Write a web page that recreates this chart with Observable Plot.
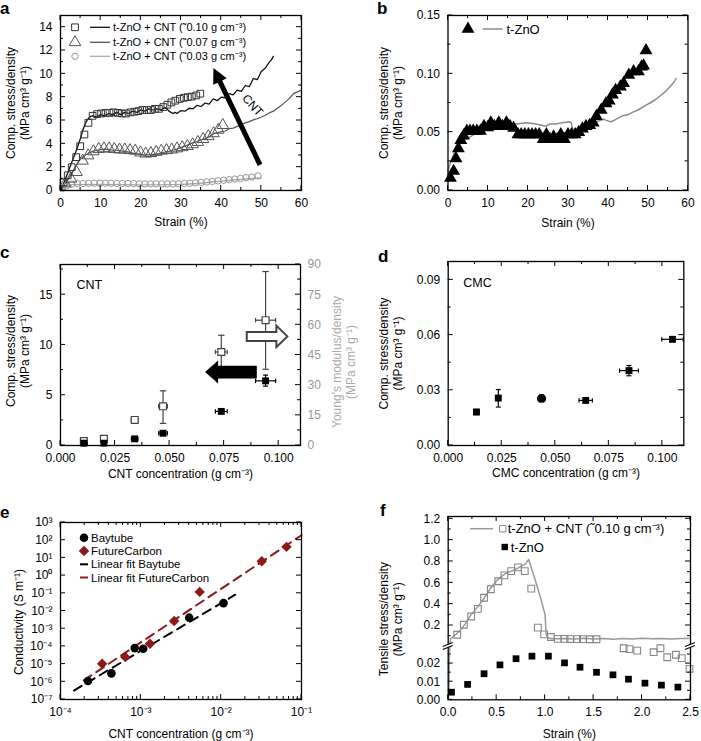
<!DOCTYPE html>
<html><head><meta charset="utf-8">
<script src="https://cdn.jsdelivr.net/npm/d3@7"></script>
<script src="https://cdn.jsdelivr.net/npm/@observablehq/plot@0.6"></script>
<style>
body{margin:0;background:#fff;}
#root{position:relative;width:701px;height:741px;overflow:hidden;background:#fff;font-family:'Liberation Sans',Arial,Helvetica,sans-serif;}
</style></head><body><div id="root"></div>
<script>
// ---------------- Panel a ----------------
const aSqStrain = [0.75,1.8,2.8,3.9,4.9,5.95,6.95,8.0,9.1,10.1,11.2,12.2,13.2,14.3,15.3,16.3,17.4,18.4,19.4,20.4,21.5,22.5,23.5,24.5,25.6,26.6,27.6,28.6,29.7,30.7,31.7,32.7,33.8,34.8];
const aSqStress = [0.7,1.3,2.0,2.86,3.8,4.8,5.8,6.4,6.55,6.6,6.65,6.65,6.7,6.65,6.6,6.6,6.7,6.75,6.8,6.9,6.9,6.9,7.0,7.0,7.15,7.35,7.55,7.7,7.85,7.95,8.0,8.05,8.15,8.3];
const aTriStrain = [1.2,2.6,4.0,5.5,6.9,8.2,9.5,10.8,12.1,13.4,14.7,16.0,17.3,18.6,19.9,21.2,22.5,23.8,25.1,26.4,27.7,29.0,30.3,31.6,32.9,34.2,35.5,36.8,38.1,39.3,40.4];
const aTriStress = [0.6,1.0,1.57,2.55,3.0,3.35,3.55,3.6,3.6,3.55,3.5,3.5,3.45,3.4,3.25,3.15,3.2,3.3,3.4,3.45,3.5,3.6,3.7,3.8,3.95,4.15,4.4,4.65,4.9,5.2,5.6];
const aCirStrain = [0.5,1.5,2.8,4.2,5.6,7.0,8.4,9.8,11.2,12.6,14.0,15.4,16.8,18.2,19.6,21.0,22.4,23.8,25.2,26.6,28.0,29.4,30.8,32.2,33.6,35.0,36.4,37.8,39.2,40.6,42.0,43.4,44.8,46.2,47.6,49.2];
const aCirStress = [0.2,0.4,0.55,0.6,0.6,0.62,0.62,0.62,0.62,0.62,0.6,0.6,0.6,0.6,0.58,0.57,0.57,0.57,0.57,0.57,0.57,0.58,0.6,0.62,0.66,0.7,0.74,0.78,0.83,0.88,0.93,0.98,1.03,1.1,1.15,1.25];
const aL10Strain = [0,0.5,1,2,3,4,5,5.5,6,6.5,7,7.5,8,9,10,11,12,13,14,15,16,17,18,19,20,21,22,23,24,25,26,26.5,27,27.5,28,28.5,29,30,31,32,33,34,35,36,37,38,39,40,41,42,43,44,45,46,47,48,49,50,51,52,52.5,53];
const aL10Stress = [0,0.4,0.8,1.7,2.6,3.5,4.5,5.1,5.6,5.95,6.2,6.35,6.4,6.3,6.5,6.4,6.6,6.5,6.7,6.5,6.7,6.6,6.8,6.7,6.9,6.8,7.0,6.9,7.0,6.9,7.1,7.0,6.8,6.7,6.6,6.7,6.6,6.85,6.8,7.05,7.0,7.3,7.2,7.5,7.4,7.85,7.7,8.0,7.95,8.3,8.2,8.6,8.5,9.0,8.9,9.6,9.5,10.2,10.5,11.0,11.2,11.5];
const aL07Strain = [0,1,2,3,4,5,6,7,8,9,10,11,12,13,14,15,16,17,18,19,20,21,22,23,24,25,26,27,28,29,30,31,32,33,34,35,36,37,38,39,40,41,42,43,44,45,46,47,48,49,50,51,52,53,54,55,56,57,58,59,60];
const aL07Stress = [0,0.5,1,1.6,2.2,2.7,3,3.2,3.35,3.45,3.5,3.55,3.5,3.45,3.45,3.4,3.35,3.3,3.2,3.15,3.1,3.05,3.05,3.1,3.1,3.2,3.3,3.35,3.45,3.55,3.7,3.8,3.95,4.1,4.2,4.35,4.45,4.6,4.85,4.95,5.05,5.1,5.3,5.35,5.5,5.65,5.8,5.9,6.05,6.15,6.3,6.45,6.65,6.8,7.05,7.3,7.6,7.9,8.3,8.45,8.6];
const aL03Strain = [0,1,2,3,5,10,15,20,25,28,30,32,34,36,38,40,42,44,46,48,50];
const aL03Stress = [0,0.3,0.45,0.5,0.5,0.52,0.5,0.48,0.48,0.5,0.52,0.56,0.6,0.66,0.73,0.8,0.86,0.92,0.98,1.03,1.08];
const aXTicks = [0,10,20,30,40,50,60], aXMinor = [5,15,25,35,45,55];
const aYTicks = [0,2,4,6,8,10,12,14], aYMinor = [1,3,5,7,9,11,13];
const aLegend = ["t-ZnO + CNT (\u02DC0.10 g cm\u207B\u00B3)", "t-ZnO + CNT (\u02DC0.07 g cm\u207B\u00B3)", "t-ZnO + CNT (\u02DC0.03 g cm\u207B\u00B3)"];
const aArrow = {x1: 49.8, y1: 2.15, x2: 38.2, y2: 10.45};
const aArrowLabel = [{x: 47.8, y: 7.3, text: "CNT"}];

// ---------------- Panel b ----------------
const bTriStrain = [0.6,1.4,2.0,2.6,3.2,3.9,4.7,5.5,6.3,7.2,8.1,9.0,9.9,10.7,11.6,12.7,13.6,14.6,15.5,16.4,17.5,18.3,19.2,20.1,21.0,21.9,22.8,23.8,24.6,25.5,26.4,27.3,28.2,29.1,30.0,30.9,31.8,32.7,33.6,34.5,35.4,36.3,37.1,38.3,39.5,40.3,41.1,41.9,43.1,43.9,45.2,46.4,47.6,48.4,48.9,49.5];
const bTriStress = [0.0108,0.0166,0.0274,0.036,0.043,0.047,0.051,0.051,0.051,0.051,0.051,0.055,0.054,0.058,0.055,0.058,0.055,0.058,0.055,0.0535,0.048,0.048,0.048,0.048,0.048,0.048,0.048,0.044,0.048,0.044,0.046,0.044,0.048,0.044,0.048,0.048,0.048,0.05,0.053,0.055,0.056,0.058,0.0637,0.069,0.0746,0.077,0.082,0.086,0.089,0.092,0.099,0.102,0.102,0.106,0.107,0.12];
const bLineStrain = [0,0.7,1.4,2.2,3.0,4,5.5,7,8,9.5,11.3,13,14.6,17,19.6,22,24.5,25.4,27,28.5,30.4,30.8,31.2,32,32.9,34,35.4,37,37.9,39,40.4,41.2,42.5,43.6,45,46.1,47.5,49.4,50.5,51.9,53,54.4,55.5,56.5,57];
const bLineStress = [0.017,0.025,0.031,0.036,0.04,0.043,0.046,0.049,0.051,0.053,0.055,0.056,0.057,0.057,0.058,0.057,0.055,0.057,0.057,0.058,0.059,0.058,0.052,0.053,0.054,0.056,0.057,0.059,0.06,0.061,0.059,0.0595,0.062,0.064,0.065,0.067,0.069,0.073,0.075,0.078,0.081,0.085,0.089,0.093,0.096];
const bXTicks = [0,10,20,30,40,50,60], bXMinor = [5,15,25,35,45,55];
const bYTicks = [0,0.05,0.10,0.15], bYMinor = [0.025,0.075,0.125];
const bLegend = ["t-ZnO"];

// ---------------- Panel c ----------------
const cConc = [0.0107,0.0199,0.034,0.047,0.0737,0.094];
const cConcErr = [0.001,0.001,0.0015,0.002,0.0027,0.0046];
const cStress = [0.23,0.23,0.66,1.22,3.39,6.43];
const cStressLo = [0.15,0.15,0.5,1.0,3.2,5.9];
const cStressHi = [0.3,0.3,0.8,1.4,3.6,7.0];
const cModulus = [2.2,3.3,12.7,19.5,46.5,62.3];
const cModulusLo = [1.5,2.2,11.5,11,35.5,37.9];
const cModulusHi = [2.8,4.4,14,27.2,54.8,86.5];
const cRatio = 5; // right axis (modulus) / left axis (stress)
const cXTicks = [0,0.025,0.05,0.075,0.1], cXMinor = [0.0125,0.0375,0.0625,0.0875];
const cYTicks = [0,5,10,15], cYMinor = [2.5,7.5,12.5,17.5];
const cYRTicks = [0,15,30,45,60,75,90], cYRMinor = [7.5,22.5,37.5,52.5,67.5,82.5];
const cArrowOpen = {x1: 0.0856, x2: 0.1042, y: 10.8};
const cArrowFilled = {x1: 0.0902, x2: 0.0665, y: 7.25};

// ---------------- Panel d ----------------
const dConc = [0.0132,0.0234,0.0436,0.0642,0.0844,0.1047];
const dConcErr = [0.001,0.001,0.0018,0.0031,0.0044,0.005];
const dStress = [0.0182,0.0258,0.0255,0.0245,0.0407,0.0577];
const dStressLo = [0.0168,0.0209,0.0236,0.0235,0.0379,0.0568];
const dStressHi = [0.0196,0.0304,0.0276,0.0255,0.0435,0.0586];
const dXTicks = [0,0.025,0.05,0.075,0.1], dXMinor = [0.0125,0.0375,0.0625,0.0875];
const dYTicks = [0,0.03,0.06,0.09], dYMinor = [0.015,0.045,0.075];

// ---------------- Panel e ----------------
const eBayConc = [2.2e-4,4.3e-4,8.4e-4,1.07e-3,4.0e-3,1.07e-2];
const eBayCond = [1.1e-6,3.0e-6,8e-5,7.4e-5,4.2e-3,2.8e-2];
const eFCConc = [3.3e-4,6.4e-4,1.3e-3,2.6e-3,5.4e-3,3.2e-2,6.5e-2];
const eFCCond = [1.05e-5,2.5e-5,1.4e-4,2.7e-3,0.12,6.5,42];
const eBayFitConc = [1.47e-4,1.5e-2], eBayFitCond = [3.2e-7,8.3e-2];
const eFCFitConc = [1.95e-4,1e-1], eFCFitCond = [1.2e-6,190];
const eXTicks = [1e-4,1e-3,1e-2,1e-1];
const eXMinor = [1e-4,1e-3,1e-2].flatMap(d => [2,3,4,5,6,7,8,9].map(k => k * d));
const eYTicks = [1e-7,1e-6,1e-5,1e-4,1e-3,1e-2,1e-1,1,10,100,1000];
const eLegend = ["Baytube", "FutureCarbon", "Linear fit Baytube", "Linear fit FutureCarbon"];

// ---------------- Panel f ----------------
const fSqStrain = [0.093,0.161,0.237,0.306,0.37,0.44,0.517,0.58,0.65,0.72,0.79,0.857,0.925,0.99,1.06,1.13,1.2,1.26,1.33,1.39,1.46,1.53,1.81,1.87,1.95,2.12,2.19,2.26,2.35,2.41,2.49];
const fSqStress = [0.113,0.207,0.284,0.356,0.46,0.54,0.615,0.67,0.71,0.745,0.71,0.545,0.18,0.117,0.092,0.075,0.074,0.073,0.072,0.072,0.071,0.071,0.0285,0.028,0.0272,0.0263,0.0285,0.0235,0.0249,0.023,0.0171];
const fLineStrain = [0.004,0.008,0.012,0.024,0.07,0.126,0.18,0.228,0.3,0.364,0.43,0.5,0.55,0.6,0.65,0.704,0.77,0.8,0.83,0.9,0.95,1.0,1.01,1.03,1.06,1.1,1.2,1.3,1.4,1.5,1.6,1.7,1.8,1.9,2.0,2.1,2.2,2.3,2.4,2.48];
const fLineStress = [0.001,0.01,0.025,0.075,0.11,0.154,0.22,0.29,0.37,0.446,0.54,0.62,0.66,0.69,0.71,0.73,0.763,0.78,0.82,0.62,0.47,0.3,0.12,0.085,0.077,0.075,0.078,0.073,0.08,0.074,0.079,0.072,0.078,0.074,0.08,0.075,0.078,0.074,0.079,0.077];
const fZnOStrain = [0.034,0.2,0.37,0.534,0.7,0.864,1.034,1.2,1.36,1.53,1.7,1.86,2.03,2.2,2.37];
const fZnOStress = [0.0042,0.0085,0.0144,0.0193,0.0227,0.0241,0.0241,0.0204,0.018,0.0152,0.0138,0.0114,0.0092,0.0081,0.007];
const fXTicks = [0,0.5,1,1.5,2,2.5], fXMinor = [0.25,0.75,1.25,1.75,2.25];
const fYTicks = [0,0.01,0.02,0.2,0.4,0.6,0.8,1.0,1.2];
const fYLabels = ["0.00","0.01","0.02","0.2","0.4","0.6","0.8","1.0","1.2"];
const fYMinor = [0.005,0.015,0.025,0.1,0.3,0.5,0.7,0.9,1.1];
const fLegend = ["t-ZnO + CNT (\u02DC0.10 g cm\u207B\u00B3)", "t-ZnO"];
// broken y axis: lower part 0..0.03, upper part from 0.0125 upward
const fBreak = 0.03, fUpperStart = 0.0125, fLowerSpan = 54.3, fUpperRate = 106.7, fTop = 183.3;
const D = v => v <= fBreak ? v / fBreak * fLowerSpan : fLowerSpan + (v - fUpperStart) * fUpperRate;

// ---------------- helpers ----------------
const root = document.getElementById("root");
const FONT = "'Liberation Sans', Arial, Helvetica, sans-serif";
const pts = (xs, ys) => xs.map((x, i) => ({x, y: ys[i]}));
const SUP = {"-": "\u207B", "0": "\u2070", "1": "\u00B9", "2": "\u00B2", "3": "\u00B3", "4": "\u2074", "5": "\u2075", "6": "\u2076", "7": "\u2077", "8": "\u2078", "9": "\u2079"};
const sup = n => String(n).split("").map(c => SUP[c]).join("");
const pow10 = v => "10" + sup(Math.round(Math.log10(v)));
const f2 = d3.format(".2f"), f3 = d3.format(".3f"), f1 = d3.format(".1f");

const capH = {draw(ctx, size) { const r = Math.sqrt(size / Math.PI); ctx.moveTo(-r, 0); ctx.lineTo(r, 0); }};
const capV = {draw(ctx, size) { const r = Math.sqrt(size / Math.PI); ctx.moveTo(0, -r); ctx.lineTo(0, r); }};

function frameTicks(s) {
  return (index, scales, values, dims) => {
    const {width: W, height: H, marginLeft: L, marginRight: MR, marginTop: T, marginBottom: MB} = dims;
    const R = W - MR, B = H - MB;
    const g = d3.create("svg:g").attr("fill", "none").attr("stroke", "black").attr("stroke-width", 1);
    const seg = (x1, y1, x2, y2) => g.append("line").attr("x1", x1).attr("y1", y1).attr("x2", x2).attr("y2", y2);
    const fy = s.fy || (v => v);
    for (const [list, len] of [[s.x, 5], [s.xMinor, 3]]) for (const v of list || []) { const p = scales.x(v); seg(p, B, p, B - len); seg(p, T, p, T + len); }
    for (const [list, len] of [[s.y, 5], [s.yMinor, 3]]) for (const v of list || []) { const p = scales.y(fy(v)); seg(L, p, L + len, p); if (!s.yR) seg(R, p, R - len, p); }
    for (const [list, len] of [[s.yR, 5], [s.yRMinor, 3]]) for (const v of list || []) { const p = scales.y(v / (s.ratio || 1)); seg(R, p, R - len, p); }
    return g.node();
  };
}

function legendMark(items, fontSize) {
  return (index, scales, values, dims) => {
    const L = dims.marginLeft, T = dims.marginTop;
    const g = d3.create("svg:g").attr("font-size", fontSize).attr("font-family", FONT).attr("text-anchor", "start");
    for (const it of items) {
      const y = T + it.dy;
      if (it.line) g.append("line").attr("x1", L + it.line[0]).attr("x2", L + it.line[1]).attr("y1", y).attr("y2", y)
        .attr("stroke", it.lineColor).attr("stroke-width", it.lineWidth || 1.3);
      if (it.symbol) g.append("path").attr("transform", `translate(${L + it.sx},${y})`)
        .attr("d", d3.symbol(it.symbol, Math.PI * it.r * it.r)())
        .attr("fill", it.fill || "none").attr("stroke", it.stroke || "none").attr("stroke-width", it.sw || 1);
      g.append("text").attr("x", L + it.tx).attr("y", y).attr("dy", "0.35em").attr("fill", "black").attr("text-anchor", "start").text(it.label);
    }
    return g.node();
  };
}

function blockArrow(a) {
  return (index, scales) => {
    const X1 = scales.x(a.x1), Y1 = scales.y(a.y1), X2 = scales.x(a.x2), Y2 = scales.y(a.y2);
    const dx = X2 - X1, dy = Y2 - Y1, len = Math.hypot(dx, dy), ux = dx / len, uy = dy / len, nx = -uy, ny = ux;
    const hb = len - a.headLen, bw = a.body / 2, hw = a.head / 2;
    const P = (t, n) => [X1 + ux * t + nx * n, Y1 + uy * t + ny * n];
    const poly = [P(0, bw), P(hb, bw), P(hb, hw), [X2, Y2], P(hb, -hw), P(hb, -bw), P(0, -bw)];
    return d3.create("svg:polygon").attr("points", poly.map(p => p.join(",")).join(" "))
      .attr("fill", a.fill).attr("stroke", a.stroke || "none").attr("stroke-width", a.strokeWidth || 0)
      .attr("stroke-linejoin", "miter").node();
  };
}

function breakMarks(v) {
  return (index, scales, values, dims) => {
    const L = dims.marginLeft, R = dims.width - dims.marginRight, y = scales.y(D(v));
    const g = d3.create("svg:g");
    for (const x of [L, R]) {
      g.append("polygon").attr("points", `${x-5},${y+1.5} ${x+5},${y-2.5} ${x+5},${y+0.5} ${x-5},${y+4.5}`).attr("fill", "white");
      g.append("line").attr("x1", x-5).attr("y1", y+1.5).attr("x2", x+5).attr("y2", y-2.5).attr("stroke", "black").attr("stroke-width", 1.1);
      g.append("line").attr("x1", x-5).attr("y1", y+4.5).attr("x2", x+5).attr("y2", y+0.5).attr("stroke", "black").attr("stroke-width", 1.1);
    }
    return g.node();
  };
}

const axX = (ticks, fmt) => Plot.axisX({anchor: "bottom", ticks, tickFormat: fmt, tickSize: 0, tickPadding: 8, label: null, fontSize: 12});
const axY = (ticks, fmt) => Plot.axisY({anchor: "left", ticks, tickFormat: fmt, tickSize: 0, tickPadding: 8, label: null, fontSize: 12});
const xTitle = (t, dy) => Plot.text([t], {text: d => d, frameAnchor: "bottom", dy, textAnchor: "middle", lineAnchor: "middle", fontSize: 12});
const yTitle = (t, dx, dy = 0, fill = "black", anchor = "left") =>
  Plot.text([t], {text: d => d, frameAnchor: anchor, dx, dy, rotate: -90, textAnchor: "middle", lineAnchor: "middle", lineHeight: 1.17, fontSize: 12, fill});
const frame = () => Plot.frame({stroke: "black", strokeWidth: 1.3});

function makePlot(o) {
  const svg = Plot.plot({
    width: o.width, height: o.height,
    marginLeft: o.ml, marginRight: o.mr, marginTop: o.mt, marginBottom: o.mb,
    x: o.x, y: o.y,
    style: {fontFamily: FONT, fontSize: "12px", background: "transparent", overflow: "visible", color: "black"},
    marks: o.marks
  });
  svg.style.position = "absolute"; svg.style.left = o.left + "px"; svg.style.top = o.top + "px";
  svg.style.background = "transparent";
  if (o.z) svg.style.zIndex = o.z;
  root.appendChild(svg);
}

const STRESS_UNIT = "(MPa cm\u00B3 g\u207B\u00B9)";

// ---------------- a ----------------
makePlot({left: 0, top: 0, width: 350, height: 245, ml: 60, mr: 49, mt: 15, mb: 55,
  x: {domain: [0, 60]}, y: {domain: [0, 15]},
  marks: [
    Plot.line(pts(aL03Strain, aL03Stress), {x: "x", y: "y", stroke: "#aaa", strokeWidth: 1.4}),
    Plot.line(pts(aL07Strain, aL07Stress), {x: "x", y: "y", stroke: "#555", strokeWidth: 1.2}),
    Plot.line(pts(aL10Strain, aL10Stress), {x: "x", y: "y", stroke: "#111", strokeWidth: 1.3}),
    Plot.dot(pts(aCirStrain, aCirStress), {x: "x", y: "y", symbol: "circle", r: 3.2, stroke: "#999", fill: "none", strokeWidth: 1}),
    Plot.dot(pts(aTriStrain, aTriStress), {x: "x", y: "y", symbol: "triangle", r: 4.3, stroke: "#555", fill: "none", strokeWidth: 1}),
    Plot.dot(pts(aSqStrain, aSqStress), {x: "x", y: "y", symbol: "square", r: 3.8, stroke: "#333", fill: "none", strokeWidth: 1}),
    blockArrow({...aArrow, body: 5, head: 15, headLen: 15, fill: "black"}),
    Plot.text(aArrowLabel, {x: "x", y: "y", text: "text", rotate: 48, fontSize: 12}),
    legendMark([
      {dy: 12.3, sx: 15, symbol: d3.symbolSquare, r: 3.8, stroke: "#333", line: [30, 50], lineColor: "#111", tx: 53, label: aLegend[0]},
      {dy: 27.3, sx: 15, symbol: d3.symbolTriangle, r: 4.3, stroke: "#555", line: [30, 50], lineColor: "#555", tx: 53, label: aLegend[1]},
      {dy: 41.3, sx: 15, symbol: d3.symbolCircle, r: 3.2, stroke: "#999", line: [30, 50], lineColor: "#aaa", tx: 53, label: aLegend[2]}
    ], 11),
    frameTicks({x: aXTicks, xMinor: aXMinor, y: aYTicks, yMinor: aYMinor}),
    axX(aXTicks), axY(aYTicks),
    frame(),
    xTitle("Strain (%)", 32),
    yTitle("Comp. stress/density\n" + STRESS_UNIT, -43)
  ]});

// ---------------- b ----------------
makePlot({left: 350, top: 0, width: 351, height: 245, ml: 97.5, mr: 13.5, mt: 15, mb: 55,
  x: {domain: [0, 60]}, y: {domain: [0, 0.15]},
  marks: [
    Plot.line(pts(bLineStrain, bLineStress), {x: "x", y: "y", stroke: "#8c8c8c", strokeWidth: 1.5}),
    Plot.dot(pts(bTriStrain, bTriStress), {x: "x", y: "y", symbol: "triangle", r: 4.8, fill: "black"}),
    legendMark([
      {dy: 14, sx: 20.5, symbol: d3.symbolTriangle, r: 4.8, fill: "black", line: [35, 55], lineColor: "#8c8c8c", lineWidth: 1.5, tx: 59, label: bLegend[0]}
    ], 13),
    frameTicks({x: bXTicks, xMinor: bXMinor, y: bYTicks, yMinor: bYMinor}),
    axX(bXTicks), axY(bYTicks, f2),
    frame(),
    xTitle("Strain (%)", 33),
    yTitle("Comp. stress/density\n" + STRESS_UNIT, -57.5)
  ]});

// ---------------- d ----------------
const dRecs = dConc.map((x, i) => ({x, xlo: x - dConcErr[i], xhi: x + dConcErr[i], s: dStress[i], slo: dStressLo[i], shi: dStressHi[i]}));
makePlot({left: 350, top: 245, width: 351, height: 250, ml: 97.7, mr: 17.7, mt: 16, mb: 50,
  x: {domain: [0, 0.11]}, y: {domain: [0, 0.1]},
  marks: [
    Plot.ruleX(dRecs, {x: "x", y1: "slo", y2: "shi", stroke: "black", strokeWidth: 1.2}),
    Plot.dot(dRecs, {x: "x", y: "slo", symbol: capH, r: 2.5, stroke: "black", fill: "none", strokeWidth: 1.2}),
    Plot.dot(dRecs, {x: "x", y: "shi", symbol: capH, r: 2.5, stroke: "black", fill: "none", strokeWidth: 1.2}),
    Plot.ruleY(dRecs, {y: "s", x1: "xlo", x2: "xhi", stroke: "black", strokeWidth: 1.2}),
    Plot.dot(dRecs, {x: "xlo", y: "s", symbol: capV, r: 2.2, stroke: "black", fill: "none", strokeWidth: 1.2}),
    Plot.dot(dRecs, {x: "xhi", y: "s", symbol: capV, r: 2.2, stroke: "black", fill: "none", strokeWidth: 1.2}),
    Plot.dot(dRecs, {x: "x", y: "s", symbol: "square", r: 3.9, fill: "black"}),
    Plot.text(["CMC"], {text: d => d, frameAnchor: "top-left", dx: 15, dy: 21, textAnchor: "start", lineAnchor: "middle", fontSize: 12.5}),
    frameTicks({x: dXTicks, xMinor: dXMinor, y: dYTicks, yMinor: dYMinor}),
    axX(dXTicks, f3), axY(dYTicks, f2),
    frame(),
    xTitle("CMC concentration (g cm\u207B\u00B3)", 28),
    yTitle("Comp. stress/density\n" + STRESS_UNIT, -57.7)
  ]});

// ---------------- c ----------------
const cRecs = cConc.map((x, i) => ({x, xlo: x - cConcErr[i], xhi: x + cConcErr[i],
  s: cStress[i], slo: cStressLo[i], shi: cStressHi[i],
  m: cModulus[i] / cRatio, mlo: cModulusLo[i] / cRatio, mhi: cModulusHi[i] / cRatio}));
makePlot({left: 0, top: 245, width: 370, height: 250, ml: 60, mr: 70, mt: 19, mb: 50, z: 2,
  x: {domain: [0, 0.11]}, y: {domain: [0, 18]},
  marks: [
    Plot.ruleX(cRecs, {x: "x", y1: "mlo", y2: "mhi", stroke: "#444", strokeWidth: 1.2}),
    Plot.dot(cRecs, {x: "x", y: "mlo", symbol: capH, r: 3.2, stroke: "#444", fill: "none", strokeWidth: 1.2}),
    Plot.dot(cRecs, {x: "x", y: "mhi", symbol: capH, r: 3.2, stroke: "#444", fill: "none", strokeWidth: 1.2}),
    Plot.ruleY(cRecs, {y: "m", x1: "xlo", x2: "xhi", stroke: "#444", strokeWidth: 1.2}),
    Plot.dot(cRecs, {x: "xlo", y: "m", symbol: capV, r: 2.2, stroke: "#444", fill: "none", strokeWidth: 1.2}),
    Plot.dot(cRecs, {x: "xhi", y: "m", symbol: capV, r: 2.2, stroke: "#444", fill: "none", strokeWidth: 1.2}),
    Plot.ruleX(cRecs, {x: "x", y1: "slo", y2: "shi", stroke: "black", strokeWidth: 1.2}),
    Plot.dot(cRecs, {x: "x", y: "slo", symbol: capH, r: 2.5, stroke: "black", fill: "none", strokeWidth: 1.2}),
    Plot.dot(cRecs, {x: "x", y: "shi", symbol: capH, r: 2.5, stroke: "black", fill: "none", strokeWidth: 1.2}),
    Plot.ruleY(cRecs, {y: "s", x1: "xlo", x2: "xhi", stroke: "black", strokeWidth: 1.2}),
    Plot.dot(cRecs, {x: "xlo", y: "s", symbol: capV, r: 2.2, stroke: "black", fill: "none", strokeWidth: 1.2}),
    Plot.dot(cRecs, {x: "xhi", y: "s", symbol: capV, r: 2.2, stroke: "black", fill: "none", strokeWidth: 1.2}),
    Plot.dot(cRecs, {x: "x", y: "m", symbol: "square", r: 3.9, stroke: "#444", fill: "white", strokeWidth: 1.2}),
    Plot.dot(cRecs, {x: "x", y: "s", symbol: "square", r: 3.9, fill: "black"}),
    blockArrow({x1: cArrowOpen.x1, y1: cArrowOpen.y, x2: cArrowOpen.x2, y2: cArrowOpen.y, body: 9, head: 21.5, headLen: 11, fill: "white", stroke: "#444", strokeWidth: 2}),
    blockArrow({x1: cArrowFilled.x1, y1: cArrowFilled.y, x2: cArrowFilled.x2, y2: cArrowFilled.y, body: 12.6, head: 23, headLen: 13, fill: "black"}),
    Plot.text(["CNT"], {text: d => d, frameAnchor: "top-left", dx: 16, dy: 20, textAnchor: "start", lineAnchor: "middle", fontSize: 12.5}),
    frameTicks({x: cXTicks, xMinor: cXMinor, y: cYTicks, yMinor: cYMinor, yR: cYRTicks, yRMinor: cYRMinor, ratio: cRatio}),
    axX(cXTicks, f3), axY(cYTicks),
    Plot.axisY({anchor: "right", ticks: cYRTicks.map(v => v / cRatio), tickFormat: v => String(Math.round(v * cRatio)), tickSize: 0, tickPadding: 7, label: null, color: "#999", fontSize: 12}),
    frame(),
    xTitle("CNT concentration (g cm\u207B\u00B3)", 29),
    yTitle("Comp. stress/density\n" + STRESS_UNIT, -43, -4),
    yTitle("Young's modulus/density\n" + STRESS_UNIT, 43, 7, "#aaa", "right")
  ]});

// ---------------- e ----------------
const RED = "#8b1a1a";
makePlot({left: 0, top: 490, width: 350, height: 251, ml: 60, mr: 49, mt: 32, mb: 42,
  x: {type: "log", domain: [1e-4, 1e-1]}, y: {type: "log", domain: [1e-7, 1e3]},
  marks: [
    Plot.line(pts(eBayFitConc, eBayFitCond), {x: "x", y: "y", stroke: "black", strokeWidth: 2, strokeDasharray: "9,6"}),
    Plot.line(pts(eFCFitConc, eFCFitCond), {x: "x", y: "y", stroke: RED, strokeWidth: 2, strokeDasharray: "9,6"}),
    Plot.dot(pts(eBayConc, eBayCond), {x: "x", y: "y", symbol: "circle", r: 4.3, fill: "black"}),
    Plot.dot(pts(eFCConc, eFCCond), {x: "x", y: "y", symbol: "diamond2", r: 4.7, fill: RED}),
    legendMark([
      {dy: 15.7, sx: 24, symbol: d3.symbolCircle, r: 4.3, fill: "black", tx: 31, label: eLegend[0]},
      {dy: 29, sx: 24, symbol: d3.symbolDiamond2, r: 4.7, fill: RED, tx: 31, label: eLegend[1]},
      {dy: 42.3, line: [20, 28], lineColor: "black", lineWidth: 2, tx: 31, label: eLegend[2]},
      {dy: 55.5, line: [20, 28], lineColor: RED, lineWidth: 2, tx: 31, label: eLegend[3]}
    ], 11.5),
    frameTicks({x: eXTicks, xMinor: eXMinor, y: eYTicks}),
    axX(eXTicks, pow10), axY(eYTicks, pow10),
    frame(),
    xTitle("CNT concentration (g cm\u207B\u00B3)", 35),
    yTitle("Conductivity (S m\u207B\u00B9)", -42, 11)
  ]});

// ---------------- f ----------------
makePlot({left: 350, top: 490, width: 351, height: 251, ml: 97.7, mr: 11, mt: 26, mb: 41.7,
  x: {domain: [0, 2.5]}, y: {domain: [0, fTop]},
  marks: [
    Plot.line(pts(fLineStrain, fLineStress), {x: "x", y: d => D(d.y), stroke: "#999", strokeWidth: 1.5}),
    Plot.dot(pts(fSqStrain, fSqStress), {x: "x", y: d => D(d.y), symbol: "square", r: 3.8, stroke: "#888", fill: "none", strokeWidth: 1.1}),
    Plot.dot(pts(fZnOStrain, fZnOStress), {x: "x", y: d => D(d.y), symbol: "square", r: 3.8, fill: "black"}),
    legendMark([
      {dy: 12.7, line: [22.3, 45.3], lineColor: "#999", lineWidth: 1.5, sx: 55, symbol: d3.symbolSquare, r: 3.6, stroke: "#888", tx: 60, label: fLegend[0]},
      {dy: 31, sx: 57, symbol: d3.symbolSquare, r: 3.6, fill: "black", tx: 63, label: fLegend[1]}
    ], 13),
    frameTicks({x: fXTicks, xMinor: fXMinor, y: fYTicks, yMinor: fYMinor, fy: D}),
    axX(fXTicks, f1),
    axY(fYTicks.map(D), v => fYLabels[fYTicks.findIndex(t => Math.abs(D(t) - v) < 1e-6)]),
    frame(),
    breakMarks(fBreak),
    xTitle("Strain (%)", 34),
    yTitle("Tensile stress/density\n" + STRESS_UNIT, -57.7, 11)
  ]});

// ---------------- panel letters ----------------
const letters = [["a", 0, 13.5], ["b", 377, 13.5], ["c", 0, 257.5], ["d", 378, 262], ["e", 0, 517.5], ["f", 380, 515.5]];
const ov = d3.create("svg").attr("width", 701).attr("height", 741).style("position", "absolute").style("left", "0px").style("top", "0px").style("pointer-events", "none").style("z-index", 5);
for (const [t, x, y] of letters) ov.append("text").attr("x", x).attr("y", y).attr("font-family", FONT).attr("font-weight", "bold").attr("font-size", 17).text(t);
root.appendChild(ov.node());
</script></body></html>
